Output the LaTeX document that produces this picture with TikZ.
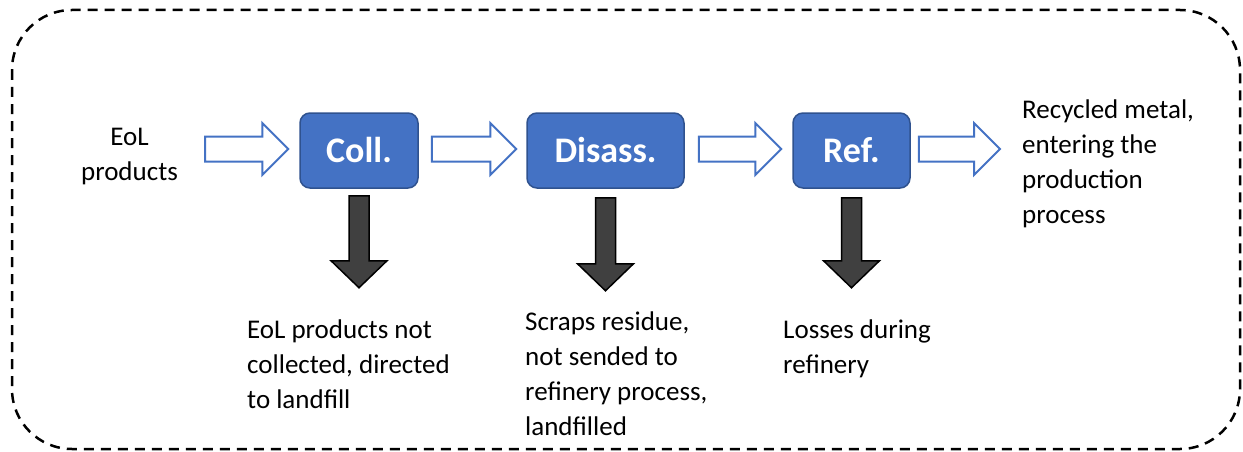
\documentclass[tikz,border=0pt]{standalone}
\usepackage{fontspec}
\setmainfont{Carlito}
\usetikzlibrary{calc}
\definecolor{procblue}{HTML}{4472C4}
\definecolor{procedge}{HTML}{2F528F}
\definecolor{lossgray}{HTML}{404040}

% hollow block arrow from #1 to tip #2 (same height)
\newcommand\flowarrow[2]{%
  \draw[flow] ($(#1)+(0,-12.5)$) -- ($(#2)+(-26,-12.5)$) -- ($(#2)+(-26,-26)$)
    -- (#2) -- ($(#2)+(-26,26)$) -- ($(#2)+(-26,12.5)$) -- ($(#1)+(0,12.5)$) -- cycle;}
% solid downward block arrow from top centre #1 to tip #2
\newcommand\lossarrow[2]{%
  \draw[loss] ($(#1)+(-10,0)$) -- ($(#2)+(-10,-27)$) -- ($(#2)+(-28,-27)$)
    -- (#2) -- ($(#2)+(28,-27)$) -- ($(#2)+(10,-27)$) -- ($(#1)+(10,0)$) -- cycle;}

\begin{document}
\begin{tikzpicture}[x=1pt,y=-1pt,
  stage/.style={draw=procedge, line width=1.5pt, fill=procblue, rounded corners=10pt,
    text=white, font=\fontsize{36}{40}\selectfont\bfseries, inner sep=0pt, minimum height=75pt},
  note/.style={font=\fontsize{27}{35}\selectfont, align=left, inner sep=0pt, anchor=north west},
  flow/.style={draw=procblue, line width=2pt, fill=white, line join=miter},
  loss/.style={draw=black, line width=1.5pt, fill=lossgray, line join=miter},
  frame/.style={draw=black, line width=2.5pt, dash pattern=on 10pt off 7pt, rounded corners=60pt}]

\useasboundingbox (0,0) rectangle (1243,452);

% dashed system boundary
\draw[frame] (12,10) rectangle (1240,449);

% process stages
\node[stage, minimum width=118pt] (coll) at (359,150.5) {Coll.};
\node[stage, minimum width=157pt] (disass) at (605.5,150.5) {Disass.};
\node[stage, minimum width=117pt] (ref) at (851.5,150.5) {Ref.};

% input, output and loss texts
\node[note, align=center, anchor=north] (eol) at (129.5,128) {EoL\\products};
\node[note] (out) at (1022,100) {Recycled metal,\\entering the\\production\\process};
\node[note] (lossA) at (247,320) {EoL products not\\collected, directed\\to landfill};
\node[note] (lossB) at (525,312) {Scraps residue,\\not sended to\\refinery process,\\landfilled};
\node[note] (lossC) at (783,320) {Losses during\\refinery};

% main flow
\coordinate (f1s) at ($(eol.east|-coll.west)+(27,-1.5)$);
\coordinate (f1t) at ($(coll.west)+(-11,-1.5)$);
\coordinate (f2s) at ($(coll.east)+(13,-1.5)$);
\coordinate (f2t) at ($(disass.west)+(-10,-1.5)$);
\coordinate (f3s) at ($(disass.east)+(14,-1.5)$);
\coordinate (f3t) at ($(ref.west)+(-11,-1.5)$);
\coordinate (f4s) at ($(ref.east)+(8,-1.5)$);
\coordinate (f4t) at ($(out.west|-ref.west)+(-22,-1.5)$);
\flowarrow{f1s}{f1t}
\flowarrow{f2s}{f2t}
\flowarrow{f3s}{f3t}
\flowarrow{f4s}{f4t}

% losses
\coordinate (l1s) at ($(coll.south)+(0,7)$);
\coordinate (l1t) at ($(coll.south)+(0,99)$);
\coordinate (l2s) at ($(disass.south)+(0,9)$);
\coordinate (l2t) at ($(disass.south)+(0,102)$);
\coordinate (l3s) at ($(ref.south)+(0,9)$);
\coordinate (l3t) at ($(ref.south)+(0,99)$);
\lossarrow{l1s}{l1t}
\lossarrow{l2s}{l2t}
\lossarrow{l3s}{l3t}
\end{tikzpicture}
\end{document}
